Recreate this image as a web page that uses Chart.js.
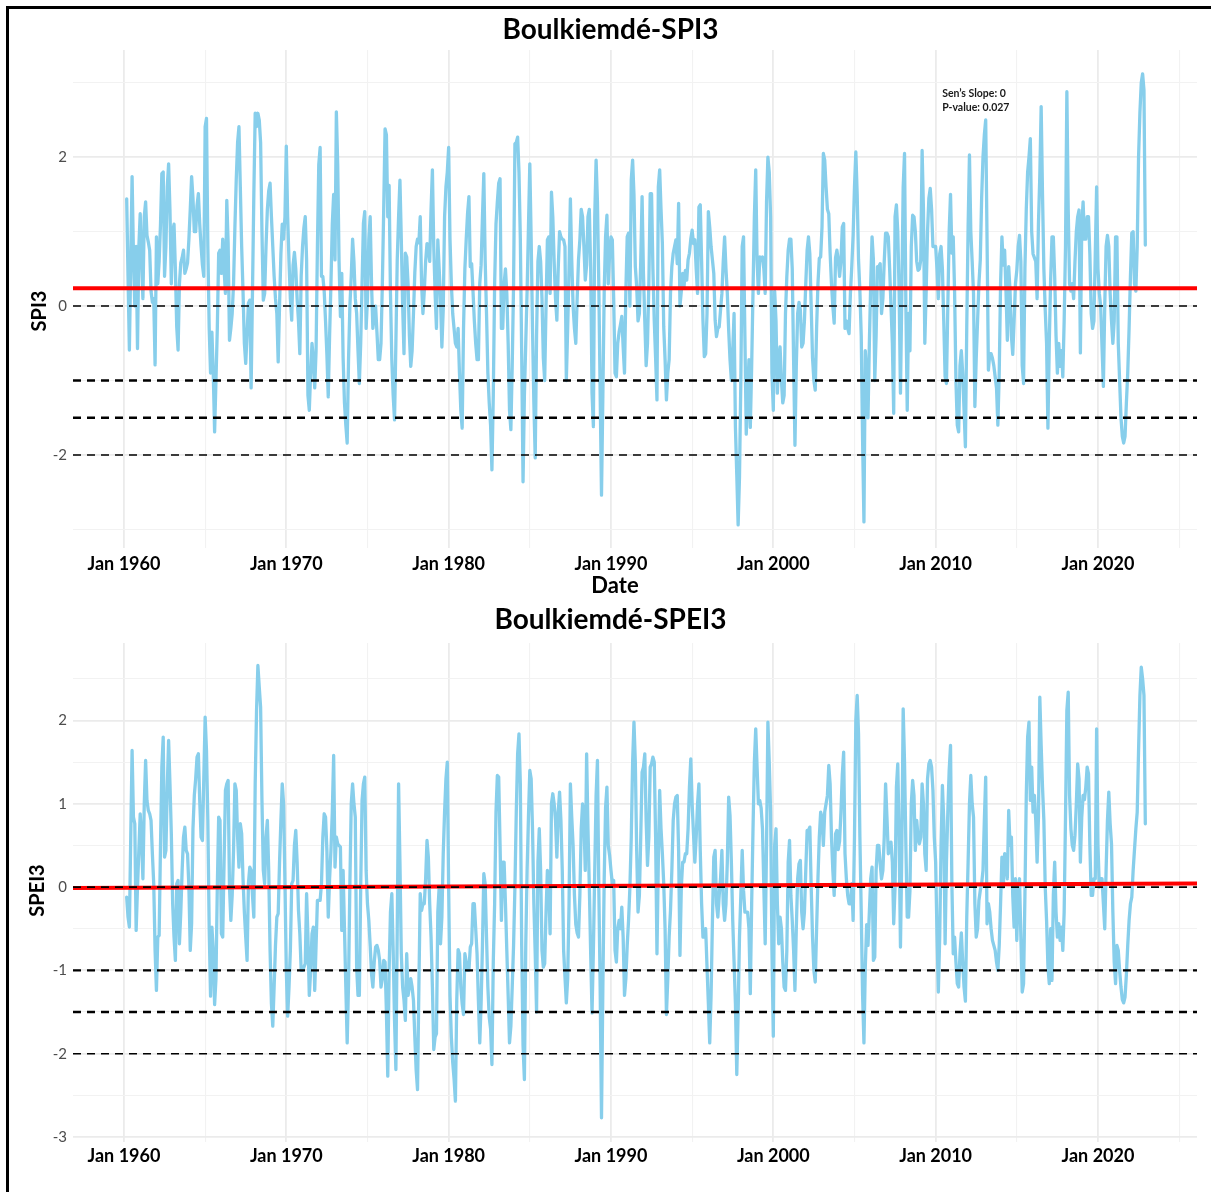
<!DOCTYPE html>
<html>
<head>
<meta charset="utf-8">
<title>Boulkiemdé SPI3 / SPEI3</title>
<script src="https://cdn.jsdelivr.net/npm/chart.js@4.4.1/dist/chart.umd.min.js"></script>
<style>
    body { margin: 0; background: #fff; }
    #wrap { position: relative; width: 1211px; height: 1192px; overflow: hidden; }
    #wrap canvas { position: absolute; left: 0; }
    #spi-chart { top: 0; }
    #spei-chart { top: 598px; }
    #frame {
        position: absolute; left: 6px; top: 6px; right: 0; bottom: 0;
        border-left: 3px solid #000; border-top: 3px solid #000;
        pointer-events: none;
    }
</style>
</head>
<body>
<div id="wrap">
    <canvas id="spi-chart" width="1211" height="598"></canvas>
    <canvas id="spei-chart" width="1211" height="594"></canvas>
    <div id="frame"></div>
</div>
<script>
// Monthly index values, one row per year; the first row starts in March 1960
const firstYear = 1960;
const firstMonth = 3;

const spi3 = [
    [1.44, 0.4, -0.59, 0.6, 1.74, 0.7, 0.0, 0.8, -0.57, 0.8],
    [1.24, 0.62, 0.1, 1.2, 1.4, 0.95, 0.86, 0.75, 0.2, 0.05, 0.1, -0.79],
    [0.93, 0.3, 0.6, 1.1, 1.78, 1.8, 0.4, 0.8, 1.6, 1.91, 1.29, 0.3],
    [1.0, 1.1, 0.5, -0.28, -0.59, 0.3, 0.58, 0.65, 0.75, 0.44, 0.5, 0.58],
    [0.9, 1.3, 1.74, 1.45, 1.0, 1.0, 1.35, 1.51, 1.1, 0.8, 0.55, 0.4],
    [2.41, 2.52, 0.8, -0.3, -0.9, -0.35, -0.9, -1.69, -1.0, -0.3, 0.71, 0.75],
    [0.44, 0.9, 0.5, 0.17, 1.42, 0.85, -0.46, -0.3, -0.1, 0.3, 1.06, 1.7],
    [2.2, 2.41, 1.6, 0.8, 0.2, -0.5, -0.77, -0.37, 0.04, 0.08, -1.1, 0.2],
    [1.5, 2.59, 2.41, 2.59, 2.5, 2.2, 1.0, 0.08, 0.17, 0.8, 1.3, 1.55],
    [1.65, 1.2, 0.8, 0.4, 0.1, -0.1, -0.75, 0.0, 0.7, 1.1, 0.9, 1.2],
    [2.15, 1.2, 0.6, 0.1, -0.19, 0.55, 0.72, 0.5, 0.1, -0.2, -0.64, 0.4],
    [0.8, 1.05, 1.2, 0.62, -1.2, -1.4, -0.9, -0.5, -0.72, -1.1, -0.6, 0.8],
    [1.9, 2.13, 0.4, 0.4, 0.2, -0.2, -0.65, -1.22, -0.4, 0.3, 1.1, 1.5],
    [0.62, 2.61, 1.9, 0.6, -0.14, 0.44, -0.7, -1.3, -1.6, -1.84, -0.72, 0.0],
    [0.4, 0.9, 0.6, 0.1, -0.1, -0.6, -1.04, -0.5, 0.3, 1.11, 1.27, -0.3],
    [0.1, 0.9, 1.2, 0.3, -0.3, -0.1, 0.0, -0.35, -0.72, -0.72, -0.5, 0.3],
    [1.3, 2.38, 2.3, 1.2, 1.62, 0.17, -0.72, -1.2, -1.53, -0.5, 0.62, 1.2],
    [1.69, 0.9, 0.0, -0.64, 0.71, 0.66, 0.3, -0.4, -0.81, -0.6, -0.1, 0.45],
    [0.8, 0.9, 0.85, 1.2, 0.3, -0.1, 0.2, 0.6, 0.84, 0.8, 0.6, 1.3],
    [1.83, 0.8, 0.17, -0.3, 0.89, 0.5, 0.1, -0.55, -0.05, 1.2, 1.6, 1.8],
    [2.13, 0.9, 0.3, -0.1, -0.3, -0.5, -0.55, -0.3, -0.9, -1.4, -1.64, -0.3],
    [0.5, 0.9, 1.25, 1.47, 0.53, 0.57, 0.2, -0.2, -0.5, -0.72, -0.72, 0.3],
    [0.55, 1.2, 1.78, 0.62, -0.1, -0.9, -1.3, -1.6, -2.2, -1.2, 0.3, 1.1],
    [1.4, 1.65, 1.71, -0.3, -0.3, 0.3, 0.5, 0.17, -0.5, -1.4, -1.66, -0.8],
    [0.3, 2.18, 2.2, 2.27, 1.8, 0.9, -0.64, -2.36, -1.2, -0.5, 0.2, 1.06],
    [1.91, 0.9, -0.3, -1.3, -2.04, -0.4, 0.6, 0.8, 0.6, 0.1, -0.7, -1.0],
    [0.0, 0.89, 0.93, 0.17, 1.53, 1.2, 0.6, 0.1, -0.19, 0.5, 1.0, 0.93],
    [0.9, 0.89, 0.8, -1.0, -0.3, 0.5, 1.44, 0.62, 0.0, -0.3, -0.5, 0.1],
    [0.62, 0.89, 1.3, 1.2, 0.8, 0.35, 0.55, 1.2, 1.3, 0.5, -1.17, -1.62],
    [1.2, 1.96, 1.4, 0.3, -1.17, -2.54, -1.2, 0.2, 0.93, 1.22, 0.3, 0.7],
    [0.93, 0.89, 0.1, -0.9, -0.95, -0.5, -0.35, -0.25, -0.14, -0.55, -0.9, 0.2],
    [0.93, 0.98, 0.0, 1.7, 1.96, 1.5, 0.53, 0.26, -0.2, -0.1, 0.6, 1.47],
    [0.44, -0.2, -0.8, -0.5, 0.3, 1.51, 1.51, 0.5, -0.2, -0.7, -1.26, 1.6],
    [1.83, 1.3, 0.84, -0.28, -0.72, -1.26, -0.9, -0.72, 0.17, 0.53, 0.71, 0.8],
    [0.89, 0.57, 1.38, 0.0, 0.2, 0.44, 0.26, 0.48, 0.35, 0.62, 0.71, 0.9],
    [1.02, 0.84, 0.89, 0.5, 0.17, 1.33, 1.36, 0.6, -0.2, -0.68, -0.64, -0.1],
    [1.27, 1.06, 0.8, 0.62, 0.44, -0.19, -0.41, -0.3, -0.28, -0.05, 0.17, 0.6],
    [0.93, 0.5, 0.17, -0.32, -0.72, -1.0, -0.6, -0.1, -1.63, -2.27, -2.94, -2.3],
    [-1.0, 0.8, 0.93, -0.4, -1.72, -1.2, -0.72, -1.63, -0.81, 0.2, 1.2, 1.83],
    [0.62, 0.17, 0.66, 0.62, 0.66, 0.5, 0.17, 1.4, 2.0, 1.8, 1.2, -0.9],
    [-1.4, 0.2, -0.2, -1.17, -0.72, -0.55, -1.0, -1.3, -1.2, -0.1, 0.4, 0.75],
    [0.9, 0.9, 0.5, -0.72, -1.87, -0.8, -0.1, 0.05, -0.05, -0.55, -0.5, -0.2],
    [0.3, 0.75, 0.93, 0.7, 0.0, -0.7, -1.0, -1.13, -0.3, 0.3, 0.64, 0.66],
    [1.06, 2.05, 1.96, 1.6, 1.3, 1.24, 0.71, 0.3, 0.0, -0.23, 0.65, 0.75],
    [0.62, 0.4, 0.6, 1.06, 1.11, -0.3, -0.2, -0.3, -0.37, 0.17, 0.53, 0.95],
    [1.6, 2.07, 1.5, 0.62, 0.2, -0.4, -1.8, -2.9, -0.6, -0.9, -1.5, -0.5],
    [0.3, 0.93, 0.62, -1.0, -0.4, 0.53, 0.53, 0.57, -0.1, 0.1, 0.6, 0.98],
    [0.98, 0.93, 0.5, 0.0, -0.5, -1.44, 1.2, 1.36, 1.0, 0.2, -1.17, 0.17],
    [1.6, 2.05, 0.0, -1.4, -0.1, -0.6, 0.8, 1.22, 1.2, 1.0, 0.6, 0.48],
    [0.5, 0.62, 2.09, 1.29, -0.5, 0.2, 1.0, 1.45, 1.58, 1.3, 0.8, 0.8],
    [0.8, 0.5, 0.1, 0.7, 0.8, 0.5, -0.2, -0.95, -1.04, 0.0, 1.0, 1.5],
    [0.71, 0.93, 0.2, -1.0, -1.6, -1.69, -0.8, -0.6, -0.9, -1.4, -1.89, -0.28],
    [1.06, 2.03, 1.0, 0.6, 0.17, -1.35, -0.7, -0.2, 0.3, 0.62, 1.45, 2.0],
    [2.3, 2.5, 0.9, -0.86, -0.64, -0.64, -0.7, -0.8, -0.95, -1.1, -1.6, -0.9],
    [0.3, 0.93, 0.55, 0.75, 0.2, -0.46, 0.53, 0.2, -0.4, -0.65, -0.2, 0.3],
    [0.48, 0.8, 0.95, 0.6, -0.8, -1.04, 0.5, 1.3, 1.8, 2.0, 2.25, 1.0],
    [0.7, 0.65, 0.6, 0.1, 1.11, 1.75, 2.68, 1.5, 0.5, -0.05, -0.5, -1.64],
    [-0.5, 0.35, 0.93, 0.93, 0.4, -0.4, -0.9, -0.5, -0.81, -0.6, -0.95, -0.2],
    [0.8, 2.88, 1.3, 0.3, 0.2, 0.3, 0.1, 0.6, 1.0, 1.2, 1.29, -0.63],
    [1.06, 1.4, 0.9, 0.9, 1.2, 1.2, 0.7, -0.1, -0.3, -0.2, 0.7, 1.6],
    [0.5, 0.17, 0.0, -0.55, -1.08, 0.0, 0.8, 0.95, 0.8, 0.17, -0.2, -0.5],
    [-0.2, 0.93, 0.93, -0.5, -1.0, -1.5, -1.75, -1.84, -1.75, -1.3, -0.9, -0.3],
    [0.4, 0.98, 1.0, 0.3, 0.2, 0.8, 2.0, 2.6, 3.0, 3.12, 2.9, 0.82]
];

const spei3 = [
    [-0.12, -0.36, -0.48, 0.6, 1.64, 0.84, 0.76, -0.52, 0.0, 0.44],
    [0.88, 0.56, 0.1, 1.0, 1.52, 1.04, 0.92, 0.88, 0.8, 0.4, 0.04, -0.76],
    [-1.24, -0.6, -0.58, 0.5, 1.44, 1.8, 0.36, 0.44, 1.2, 1.76, 1.24, 0.64],
    [-0.2, -0.6, -0.88, 0.04, 0.08, -0.68, -0.3, 0.2, 0.6, 0.72, 0.44, 0.4],
    [0.0, -0.76, -0.44, 0.7, 1.1, 1.3, 1.56, 1.6, 1.04, 0.6, 0.56, 1.3],
    [2.04, 1.64, 0.8, -0.5, -1.31, -0.48, -0.76, -1.41, -1.1, 0.0, 0.84, 0.8],
    [-0.56, -0.6, 0.3, 1.16, 1.24, 1.28, 0.0, -0.4, -0.1, 0.44, 1.24, 1.16],
    [0.6, 0.24, 0.76, 0.64, 0.1, -0.3, -0.6, -0.88, 0.04, 0.24, 0.2, -0.1],
    [-0.36, 1.24, 2.12, 2.66, 2.4, 2.16, 1.04, 0.2, 0.04, 0.6, 0.8, 0.2],
    [-0.76, -1.4, -1.67, -1.2, -0.7, -0.36, -0.32, 0.3, 0.8, 1.24, 1.0, 0.04],
    [-1.0, -1.55, -1.2, -0.76, 0.04, 0.08, 0.5, 0.68, 0.3, -0.28, -0.56, -1.0],
    [-1.0, -0.96, -0.92, -0.08, -0.6, -1.3, -1.0, -0.56, -0.48, -1.24, -0.7, -0.16],
    [-0.16, -0.16, 0.04, 0.6, 0.88, 0.84, 0.44, -0.36, 0.1, 0.44, 0.9, 1.58],
    [0.24, 0.6, 0.52, 0.5, 0.48, -0.52, 0.2, -0.5, -1.2, -1.87, -1.16, 0.04],
    [1.0, 1.24, 1.0, 0.84, -0.96, -1.3, -1.3, 0.0, 1.04, 1.24, 1.32, 0.2],
    [-0.2, -0.4, -0.7, -1.04, -1.2, -0.9, -0.72, -0.7, -0.76, -0.88, -1.2, -1.1],
    [-0.88, -0.9, -1.5, -2.27, -1.0, -0.3, -0.08, -0.76, -1.6, -2.19, -0.5, 1.24],
    [0.3, -0.8, -1.2, -1.36, -1.6, -0.8, -1.3, -1.2, -1.1, -1.2, -1.36, -1.8],
    [-2.2, -2.43, -1.2, -0.08, -0.28, -0.2, -0.2, 0.1, 0.56, 0.36, -0.2, -0.6],
    [-1.2, -1.95, -1.8, -1.76, -0.3, 0.0, -0.68, -0.36, 0.4, 0.9, 1.3, 1.5],
    [0.0, -1.3, -1.8, -2.1, -2.3, -2.57, -1.36, -0.75, -0.8, -1.2, -1.4, -1.53],
    [-0.8, -0.9, -1.0, -1.0, -0.72, -0.68, -0.2, -0.2, -0.5, -0.8, -1.36, -1.87],
    [-1.4, -0.7, 0.16, 0.04, -0.6, -1.2, -1.56, -1.7, -2.13, -0.9, -0.2, 0.9],
    [1.34, 1.32, 0.52, -0.4, 0.3, 0.3, -0.2, -0.76, -1.3, -1.87, -1.67, -1.2],
    [-0.7, 0.0, 0.9, 1.6, 1.84, 1.24, -0.7, -1.9, -2.31, -0.7, 0.2, 0.84],
    [1.4, 1.3, 0.7, -0.2, -0.8, -1.5, 0.3, 0.7, 0.2, -0.76, -0.96, -0.92],
    [-0.3, 0.2, 0.0, -0.56, 1.0, 1.12, 1.0, 0.8, 0.36, 0.9, 1.14, 0.8],
    [0.2, -0.76, -1.08, -1.39, -1.1, -0.2, 1.24, 0.84, 0.5, -0.1, -0.45, -0.55],
    [-0.6, -0.1, 0.7, 1.0, 0.8, 0.2, 1.6, 0.7, 0.0, -0.8, -1.51, -0.76],
    [0.2, 1.1, 1.52, 0.0, -1.2, -2.77, -1.2, 0.1, 0.95, 1.2, 0.5, 0.38],
    [0.2, 0.04, 0.08, -0.76, -0.9, -0.5, -0.4, -0.5, -0.24, -0.6, -1.3, -1.1],
    [-0.7, -0.4, 0.0, 0.6, 1.5, 1.98, 1.5, 0.44, -0.3, -0.1, 0.6, 1.38],
    [1.44, 1.6, 0.8, 0.26, 0.6, 1.44, 1.48, 1.56, 1.5, 0.6, -0.8, 0.3],
    [1.16, 0.7, 0.4, 0.04, -0.5, -1.53, -1.1, -0.6, -0.28, 0.2, 0.8, 1.0],
    [1.08, 1.1, 0.44, -0.82, 0.0, 0.3, 0.3, 0.4, 0.4, 0.7, 1.2, 1.54],
    [1.0, 0.64, 0.3, 0.6, 1.0, 1.24, 0.44, -0.2, -0.6, -0.6, -0.5, -0.96],
    [-1.4, -1.87, -1.3, -0.4, 0.36, 0.44, -0.2, -0.36, -0.1, 0.1, 0.44, -0.2],
    [-0.4, -0.2, 0.3, 1.08, 0.86, 0.3, -0.4, -0.9, -1.4, -2.25, -1.5, -0.6],
    [-0.1, 0.44, -0.04, -0.3, -0.3, -0.3, -0.5, -1.28, -0.2, 0.7, 1.5, 1.9],
    [1.44, 1.0, 1.04, 0.95, 0.7, 0.0, -0.68, 0.5, 1.98, 1.5, 0.9, -0.76],
    [-1.79, 0.5, 0.7, -0.2, -0.68, -0.36, -0.5, -0.9, -1.2, -1.24, -0.76, 0.3],
    [0.56, -0.1, -0.4, -0.76, -1.24, -0.5, 0.1, 0.28, 0.32, -0.3, -0.5, -0.3],
    [0.2, 0.68, 0.68, 0.72, 0.0, -0.6, -1.0, -1.14, -0.5, 0.1, 0.6, 0.9],
    [0.84, 0.5, 0.9, 1.0, 1.1, 1.46, 1.24, 0.6, 0.2, -0.1, 0.64, 0.68],
    [0.45, 0.55, 0.9, 1.35, 1.62, 0.4, 0.1, -0.1, -0.2, -0.2, 0.04, -0.4],
    [0.6, 2.0, 2.3, 1.84, 0.6, -0.3, -1.3, -1.87, -0.96, -0.45, -0.7, -0.3],
    [0.1, 0.24, -0.88, -0.84, 0.2, 0.5, 0.5, 0.28, 0.1, 0.2, 0.6, 1.24],
    [0.84, 0.4, 0.45, 0.54, 0.3, -0.44, 0.0, 1.2, 1.48, 0.6, -0.72, 0.44],
    [2.14, 1.5, 0.5, -0.36, -0.36, -0.05, 1.0, 1.28, 1.1, 0.44, 0.8, 0.6],
    [0.52, 0.6, 1.24, 1.0, 0.4, 0.2, 1.3, 1.48, 1.52, 1.44, 1.16, 0.6],
    [0.3, -0.56, -1.26, -0.6, 0.5, 1.22, 0.8, -0.68, 0.3, 0.9, 1.4, 1.7],
    [0.04, -0.8, -0.6, -0.9, -1.16, -1.2, -0.8, -0.55, -0.9, -1.2, -1.37, -0.36],
    [0.3, 1.0, 1.34, 1.0, 0.84, -0.2, -0.6, -0.5, -0.16, -0.04, 0.04, 0.2],
    [0.8, 1.32, -0.44, -0.2, -0.3, -0.5, -0.64, -0.7, -0.76, -0.9, -1.0, -0.7],
    [-0.2, 0.36, 0.0, 0.4, 0.3, 0.1, 0.92, 0.5, 0.6, -0.1, -0.48, 0.1],
    [-0.64, 0.0, 0.1, -0.6, -1.26, -1.16, -0.1, 1.1, 1.8, 1.98, 1.04, 1.44],
    [0.9, 1.1, 0.8, 0.3, 0.84, 2.28, 1.7, 1.2, 0.8, 0.0, -0.4, -0.95],
    [-1.16, -0.5, -1.12, -0.1, 0.3, -0.3, -0.6, -0.44, -0.64, -0.48, -0.76, -0.3],
    [0.84, 2.12, 2.34, 1.1, 0.7, 0.5, 0.44, 0.62, 1.0, 1.48, 1.3, 0.3],
    [0.84, 1.1, 1.05, 1.2, 1.44, 1.36, 0.5, -0.1, -0.1, 0.1, 0.1, 1.9],
    [0.5, 0.0, 0.1, 0.1, -0.2, -0.5, 0.2, 0.8, 1.14, 0.76, 0.52, -0.3],
    [-0.9, -1.16, -0.7, -0.76, -1.0, -1.2, -1.35, -1.39, -1.32, -1.05, -0.7, -0.4],
    [-0.2, -0.12, 0.2, 0.45, 0.7, 0.9, 1.64, 2.3, 2.64, 2.5, 2.3, 0.76]
];

// Trend line end values (at the left and right edge of the time axis)
const spiTrend = [0.24, 0.24];
const speiTrend = [-0.012, 0.044];

// Drought thresholds drawn as dashed lines
const droughtLevels = [0, -1, -1.5, -2];
const droughtWidths = [1.6, 2.4, 2.4, 1.6];

// Axis ticks
const gridYears = [1960, 1965, 1970, 1975, 1980, 1985, 1990, 1995, 2000, 2005, 2010, 2015, 2020, 2025];
const labelYears = [1960, 1970, 1980, 1990, 2000, 2010, 2020];
const spiGrid = [-3, -2, -1, 0, 1, 2, 3];
const spiLabels = [-2, 0, 2];
const speiGrid = [-3, -2.5, -2, -1.5, -1, -0.5, 0, 0.5, 1, 1.5, 2, 2.5];
const speiLabels = [-3, -2, -1, 0, 1, 2];

const statsNote = ['Sen\u2019s Slope: 0', 'P-value: 0.027'];

const xMin = 1956.86;
const xMax = 2026.1;

document.addEventListener('DOMContentLoaded', function() {
    const fontLoads = document.fonts ? [
        document.fonts.load('bold 28px Lato'),
        document.fonts.load('15px Lato')
    ] : [];
    Promise.all(fontLoads).catch(() => {}).then(initCharts);

    function toPoints(rows) {
        const points = [];
        rows.forEach((row, r) => {
            const offset = r === 0 ? firstMonth - 1 : 0;
            row.forEach((v, c) => {
                points.push({ x: firstYear + r + (offset + c) / 12, y: v });
            });
        });
        return points;
    }

    function lineAcross(startValue, endValue) {
        return [{ x: xMin, y: startValue }, { x: xMax, y: endValue }];
    }

    // Test result note and axis titles, drawn on top of the plot
    const panelText = {
        id: 'panelText',
        afterDatasetsDraw(chart, args, opts) {
            const { ctx, scales, chartArea } = chart;
            ctx.save();
            ctx.fillStyle = '#1a1a1a';
            ctx.textBaseline = 'middle';
            if (opts.note) {
                const x = scales.x.getPixelForValue(opts.note.x);
                const y = scales.y.getPixelForValue(opts.note.y);
                ctx.font = 'bold 10.5px Lato';
                opts.note.lines.forEach((line, i) => ctx.fillText(line, x, y + i * 14));
            }
            ctx.fillStyle = '#000';
            ctx.textAlign = 'center';
            if (opts.xTitle) {
                ctx.font = 'bold 22px Lato';
                ctx.fillText(opts.xTitle, opts.xTitleX, chartArea.bottom + 38);
            }
            if (opts.yTitle) {
                const cy = (chartArea.top + chartArea.bottom) / 2 + opts.yTitleShift;
                ctx.translate(opts.yTitleX, cy);
                ctx.rotate(-Math.PI / 2);
                ctx.font = 'bold 20px Lato';
                ctx.fillText(opts.yTitle, 0, 0);
            }
            ctx.restore();
        }
    };

    function buildPanel(canvasId, cfg) {
        const datasets = droughtLevels.map((level, i) => ({
            data: lineAcross(level, level),
            borderColor: '#000',
            borderWidth: droughtWidths[i],
            borderDash: [8, 6],
            pointRadius: 0,
            order: 0
        }));
        datasets.push({
            data: lineAcross(cfg.trend[0], cfg.trend[1]),
            borderColor: '#FF0000',
            borderWidth: 4,
            pointRadius: 0,
            order: 1
        });
        datasets.push({
            data: toPoints(cfg.values),
            borderColor: '#87CEEB',
            borderWidth: 3.3,
            borderJoinStyle: 'round',
            borderCapStyle: 'round',
            pointRadius: 0,
            order: 2
        });

        const ctx = document.getElementById(canvasId).getContext('2d');
        return new Chart(ctx, {
            type: 'line',
            data: { datasets: datasets },
            plugins: [panelText],
            options: {
                responsive: false,
                animation: false,
                devicePixelRatio: 1,
                events: [],
                layout: { padding: { left: 24, right: 14, top: 0, bottom: 0 } },
                plugins: {
                    legend: { display: false },
                    tooltip: { enabled: false },
                    title: {
                        display: true,
                        text: cfg.title,
                        color: '#000',
                        font: { family: 'Lato', size: 28, weight: 'bold' },
                        padding: cfg.titlePadding
                    },
                    panelText: cfg.text
                },
                scales: {
                    x: {
                        type: 'linear',
                        min: xMin,
                        max: xMax,
                        afterBuildTicks: s => { s.ticks = gridYears.map(v => ({ value: v })); },
                        afterFit: s => { s.height = 50; },
                        border: { display: false },
                        grid: {
                            drawTicks: false,
                            color: c => c.tick && labelYears.includes(c.tick.value) ? '#EBEBEB' : '#F2F2F2',
                            lineWidth: c => c.tick && labelYears.includes(c.tick.value) ? 1.8 : 1.1
                        },
                        ticks: {
                            autoSkip: false,
                            maxRotation: 0,
                            padding: cfg.xTickPadding,
                            color: '#000',
                            font: { family: 'Lato', size: 18, weight: 'bold' },
                            callback: v => labelYears.includes(v) ? 'Jan ' + v : ''
                        }
                    },
                    y: {
                        type: 'linear',
                        min: cfg.yRange[0],
                        max: cfg.yRange[1],
                        afterBuildTicks: s => { s.ticks = cfg.yGrid.map(v => ({ value: v })); },
                        afterFit: s => { s.width = 49; },
                        border: { display: false },
                        grid: {
                            drawTicks: false,
                            color: c => c.tick && cfg.yLabels.includes(c.tick.value) ? '#EBEBEB' : '#F2F2F2',
                            lineWidth: c => c.tick && cfg.yLabels.includes(c.tick.value) ? 1.8 : 1.1
                        },
                        ticks: {
                            padding: 6,
                            color: '#4D4D4D',
                            font: { family: 'Lato', size: 15 },
                            callback: v => cfg.yLabels.includes(v) ? String(v) : ''
                        }
                    }
                }
            }
        });
    }

    function initCharts() {
        // SPI3 panel
        buildPanel('spi-chart', {
            title: 'Boulkiemdé-SPI3',
            titlePadding: { top: 13, bottom: 3.4 },
            values: spi3,
            trend: spiTrend,
            yRange: [-3.25, 3.44],
            yGrid: spiGrid,
            yLabels: spiLabels,
            xTickPadding: 5,
            text: {
                note: { lines: statsNote, x: 2010.4, y: 2.86 },
                xTitle: 'Date', xTitleX: 615,
                yTitle: 'SPI3', yTitleX: 40, yTitleShift: 12
            }
        });

        // SPEI3 panel
        buildPanel('spei-chart', {
            title: 'Boulkiemdé-SPEI3',
            titlePadding: { top: 5, bottom: 6.4 },
            values: spei3,
            trend: speiTrend,
            yRange: [-3.06, 2.93],
            yGrid: speiGrid,
            yLabels: speiLabels,
            xTickPadding: 3,
            text: {
                yTitle: 'SPEI3', yTitleX: 38, yTitleShift: -2
            }
        });
    }
});
</script>
</body>
</html>
